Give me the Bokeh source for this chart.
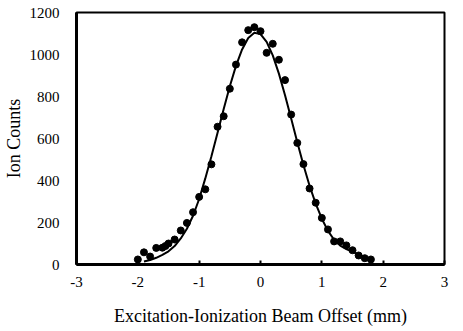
from bokeh.plotting import figure
from bokeh.models import Range1d, FixedTicker
from bokeh.embed import file_html
from bokeh.resources import INLINE

# measured data (beam offset in mm, ion counts)
offset_mm = [-2.0, -1.9, -1.8, -1.7, -1.6, -1.55, -1.5, -1.4, -1.3, -1.2, -1.1, -1.0,
             -0.9, -0.8, -0.7, -0.6, -0.5, -0.4, -0.3, -0.2, -0.1, 0.0, 0.1, 0.2,
             0.3, 0.4, 0.5, 0.6, 0.7, 0.8, 0.9, 1.0, 1.1, 1.2, 1.3, 1.4, 1.5, 1.6, 1.7, 1.8]
ion_counts = [24, 58, 38, 79, 80, 88, 100, 119, 162, 198, 249, 322,
              358, 477, 656, 706, 837, 952, 1058, 1116, 1130, 1111, 1008, 1051,
              975, 878, 714, 579, 478, 362, 294, 222, 167, 110, 110, 91, 68, 43, 30, 24]

# fitted curve
fit_x = [-1.9, -1.8, -1.7, -1.6, -1.5, -1.4, -1.3, -1.2, -1.1, -1.0, -0.9, -0.8, -0.7,
         -0.6, -0.5, -0.4, -0.3, -0.2, -0.1, 0.0, 0.1, 0.2, 0.3, 0.4, 0.5, 0.6, 0.7,
         0.8, 0.9, 1.0, 1.1, 1.2, 1.3, 1.4, 1.5, 1.6, 1.7, 1.8]
fit_y = [14, 21, 32, 46, 63, 88, 124, 170, 232, 312, 410, 515, 627,
         740, 849, 946, 1024, 1079, 1104, 1097, 1060, 996, 909, 806, 695, 582, 474,
         375, 290, 218, 160, 118, 90, 73, 60, 47, 35, 25]

x_ticks = [-3, -2, -1, 0, 1, 2, 3]
x_tick_labels = ["-3", "-2", "-1", "0", "1", "2", "3"]
y_ticks = [0, 200, 400, 600, 800, 1000, 1200]
y_tick_labels = ["0", "200", "400", "600", "800", "1000", "1200"]

FONT = "Liberation Serif"

p = figure(frame_width=368, frame_height=252, output_backend="svg", toolbar_location=None,
           x_range=Range1d(-3, 3), y_range=Range1d(0, 1200),
           min_border_left=70, min_border_right=12, min_border_top=12, min_border_bottom=50)

p.line(fit_x, fit_y, line_color="black", line_width=2)
p.scatter(offset_mm, ion_counts, size=7, fill_color="black", line_color="black")

p.xgrid.visible = False
p.ygrid.visible = False
p.background_fill_color = "white"
p.border_fill_color = "white"
p.outline_line_color = "black"
p.outline_line_width = 2

p.xaxis.ticker = FixedTicker(ticks=x_ticks)
p.xaxis.major_label_overrides = {t: l for t, l in zip(x_ticks, x_tick_labels)}
p.yaxis.ticker = FixedTicker(ticks=y_ticks)
p.yaxis.major_label_overrides = {t: l for t, l in zip(y_ticks, y_tick_labels)}

for ax in (p.xaxis[0], p.yaxis[0]):
    ax.axis_line_color = "black"
    ax.axis_line_width = 3
    ax.minor_tick_line_color = None
    ax.major_label_text_font = FONT
    ax.major_label_text_font_size = "15px"
    ax.major_label_text_color = "black"
    ax.axis_label_text_font = FONT
    ax.axis_label_text_font_size = "18px"
    ax.axis_label_text_font_style = "normal"
    ax.axis_label_text_color = "black"

p.xaxis.major_tick_in = 4
p.xaxis.major_tick_out = 0
p.xaxis.major_tick_line_width = 2
p.xaxis.major_label_standoff = 12
p.xaxis.axis_label = "Excitation-Ionization Beam Offset (mm)"
p.xaxis.axis_label_standoff = 16

p.yaxis.major_tick_line_color = None
p.yaxis.major_label_standoff = 11
p.yaxis.axis_label = "Ion Counts"
p.yaxis.axis_label_standoff = 3

open("out.html", "w").write(file_html(p, INLINE))
